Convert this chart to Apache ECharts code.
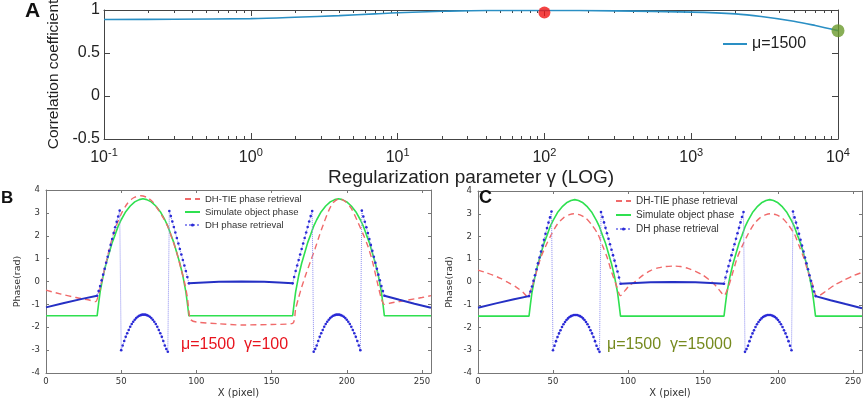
<!DOCTYPE html>
<html>
<head>
<meta charset="utf-8">
<script src="https://cdn.jsdelivr.net/npm/echarts@6/dist/echarts.min.js"></script>
<style>
  html, body { margin: 0; padding: 0; background: #fff; }
  #main { width: 865px; height: 398px; }
</style>
</head>
<body>
<div id="main"></div>
<script>
// ---- panel A: correlation vs regularization parameter ----
var gammaX = [0.1, 0.3, 1, 2, 4, 7, 10, 20, 40, 100, 300, 1000, 2000, 3000, 5000, 7000, 10000];
var corrY = [0.89, 0.892, 0.9, 0.915, 0.935, 0.955, 0.968, 0.985, 0.995, 0.995, 0.99, 0.975, 0.955, 0.925, 0.87, 0.82, 0.76];
var corrTicks = [-0.5, 0, 0.5, 1];
var gammaMinor = [0.2, 0.3, 0.4, 0.5, 0.6, 0.7, 0.8, 0.9, 2, 3, 4, 5, 6, 7, 8, 9, 20, 30, 40, 50, 60, 70, 80, 90,
  200, 300, 400, 500, 600, 700, 800, 900, 2000, 3000, 4000, 5000, 6000, 7000, 8000, 9000];
var redMark = [100, 0.972];
var greenMark = [10000, 0.76];

// ---- panels B and C: phase profiles ----
var pixelTicks = [0, 50, 100, 150, 200, 250];

// simulated object phase (same in B and C)
var simX = [0, 34, 35, 36, 38, 40, 42, 44, 46, 48, 50, 53, 56, 59, 62, 64.5, 67, 70, 73, 76, 79, 81, 83, 85, 87, 89, 91, 93, 94, 95,
  164, 165, 166, 168, 170, 172, 174, 176, 178, 180, 183, 186, 189, 192, 194.5, 197, 200, 203, 206, 209, 211, 213, 215, 217, 219, 221, 223, 224, 225, 256];
var simY = [-1.5, -1.5, -0.95, -0.45, 0.25, 0.8, 1.25, 1.7, 2.05, 2.42, 2.7, 3.05, 3.3, 3.48, 3.58, 3.62, 3.58, 3.48, 3.3, 3.05, 2.7, 2.42, 2.05, 1.7, 1.25, 0.8, 0.25, -0.45, -0.95, -1.5,
  -1.5, -0.95, -0.45, 0.25, 0.8, 1.25, 1.7, 2.05, 2.42, 2.7, 3.05, 3.3, 3.48, 3.58, 3.62, 3.58, 3.48, 3.3, 3.05, 2.7, 2.42, 2.05, 1.7, 1.25, 0.8, 0.25, -0.45, -0.95, -1.5, -1.5];

// DH phase retrieval (wrapped), same in B and C
var dhWrap1X = [34, 35, 36, 37, 38, 39, 40, 41, 42, 43, 44, 45, 46, 47, 48, 49,
  50, 51, 52, 53, 54, 55, 56, 57, 58, 59, 60, 61, 62, 63, 64, 65, 66, 67, 68, 69, 70, 71, 72, 73, 74, 75, 76, 77, 78, 79, 80, 81,
  82, 83, 84, 85, 86, 87, 88, 89, 90, 91, 92, 93, 94, 95];
var dhWrap1Y = [-0.62, -0.42, -0.2, 0.05, 0.3, 0.56, 0.82, 1.08, 1.34, 1.6, 1.86, 2.12, 2.37, 2.61, 2.84, 3.1,
  -3.0, -2.8, -2.6, -2.42, -2.26, -2.12, -1.98, -1.86, -1.76, -1.67, -1.6, -1.54, -1.5, -1.47, -1.45, -1.45, -1.45, -1.47, -1.5, -1.54, -1.6, -1.67, -1.76, -1.86, -1.98, -2.12, -2.26, -2.42, -2.6, -2.8, -2.95, -3.07,
  3.08, 2.86, 2.62, 2.38, 2.14, 1.9, 1.66, 1.42, 1.18, 0.94, 0.7, 0.46, 0.2, -0.08];
var dhWrap2X = [164, 165, 166, 167, 168, 169, 170, 171, 172, 173, 174, 175, 176, 177,
  178, 179, 180, 181, 182, 183, 184, 185, 186, 187, 188, 189, 190, 191, 192, 193, 194, 195, 196, 197, 198, 199, 200, 201, 202, 203, 204, 205, 206, 207, 208, 209,
  210, 211, 212, 213, 214, 215, 216, 217, 218, 219, 220, 221, 222, 223, 224, 225];
var dhWrap2Y = [-0.08, 0.2, 0.46, 0.7, 0.94, 1.18, 1.42, 1.66, 1.9, 2.14, 2.38, 2.62, 2.86, 3.08,
  -3.07, -2.95, -2.8, -2.6, -2.42, -2.26, -2.12, -1.98, -1.86, -1.76, -1.67, -1.6, -1.54, -1.5, -1.47, -1.45, -1.45, -1.45, -1.47, -1.5, -1.54, -1.6, -1.67, -1.76, -1.86, -1.98, -2.12, -2.26, -2.42, -2.6, -2.8, -3.0,
  3.1, 2.84, 2.61, 2.37, 2.12, 1.86, 1.6, 1.34, 1.08, 0.82, 0.56, 0.3, 0.05, -0.2, -0.42, -0.62];
var dhLeftX = [0, 12, 24, 34];
var dhLeftY = [-1.13, -0.94, -0.76, -0.62];
var dhMidX = [95, 105, 115, 130, 145, 155, 164];
var dhMidY = [-0.08, -0.04, -0.01, 0, -0.01, -0.04, -0.08];
var dhRightX = [225, 235, 245, 256];
var dhRightY = [-0.62, -0.8, -0.97, -1.15];

// DH-TIE retrieval, gamma = 100 (panel B)
var tieBX = [0, 10, 20, 28, 33, 35, 37, 40, 43, 46, 50, 54, 58, 63, 67, 71, 75, 78, 81, 84, 87, 90, 92, 94, 96,
  100, 115, 130, 150, 164, 166, 168, 170, 173, 176, 179, 182, 185, 188, 191, 195, 199, 203, 207, 211, 214, 217, 220, 223, 225, 230, 240, 250, 256];
var tieBY = [-0.38, -0.55, -0.7, -0.8, -0.88, -0.55, 0.0, 0.85, 1.65, 2.3, 2.95, 3.4, 3.65, 3.75, 3.68, 3.48, 3.1, 2.78, 2.4, 1.85, 1.25, 0.5, 0.0, -0.7, -1.65,
  -1.77, -1.85, -1.9, -1.88, -1.83, -1.2, -0.7, -0.25, 0.35, 0.9, 1.45, 2.05, 2.6, 3.1, 3.45, 3.62, 3.5, 3.2, 2.65, 2.05, 1.55, 0.9, 0.05, -0.75, -1.0, -0.93, -0.82, -0.7, -0.62];

// DH-TIE retrieval, gamma = 15000 (panel C)
var tieCX = [0, 5, 10, 15, 20, 25, 30, 33, 36, 39, 42, 46, 49, 53, 57, 61, 64, 68, 72, 76, 80, 83, 86, 89, 92, 95,
  98, 101, 105, 110, 115, 120, 125, 130, 135, 140, 145, 150, 155, 159, 162,
  164, 167, 170, 173, 177, 180, 184, 188, 192, 195, 199, 203, 207, 211, 214, 217, 220, 223, 226, 232, 238, 244, 250, 256];
var tieCY = [0.52, 0.42, 0.3, 0.16, -0.02, -0.2, -0.45, -0.65, -0.2, 0.45, 1.1, 1.7, 2.1, 2.55, 2.82, 2.96, 3.0, 2.95, 2.8, 2.5, 2.1, 1.6, 1.1, 0.45, -0.1, -0.6,
  -0.38, -0.15, 0.03, 0.3, 0.5, 0.62, 0.68, 0.7, 0.68, 0.6, 0.47, 0.3, 0.05, -0.2, -0.45,
  -0.6, -0.2, 0.45, 1.1, 1.7, 2.1, 2.55, 2.82, 2.96, 3.0, 2.95, 2.8, 2.5, 2.1, 1.6, 1.1, 0.45, -0.1, -0.65, -0.4, -0.12, 0.08, 0.27, 0.42];

var FONT = 'Liberation Sans, Arial, sans-serif';
var GAP = ['-', '-'];

function pairs(xs, ys) {
  return xs.map(function (x, i) { return [x, ys[i]]; });
}

var chart = echarts.init(document.getElementById('main'), null, { renderer: 'canvas' });

// axes of one phase panel (box with inward ticks)
function phaseX(grid, pos) {
  return {
    type: 'value', gridIndex: grid, position: pos, min: 0, max: 256,
    axisLine: { show: true, onZero: false, lineStyle: { color: '#777', width: 1 } },
    axisTick: { show: true, inside: true, length: 3, customValues: pixelTicks, lineStyle: { color: '#777' } },
    axisLabel: pos === 'bottom'
      ? { show: true, customValues: pixelTicks, fontSize: 8.5, color: '#333', margin: 4, fontFamily: 'DejaVu Sans' }
      : { show: false },
    splitLine: { show: false },
    name: pos === 'bottom' ? 'X (pixel)' : '',
    nameLocation: 'middle', nameGap: 15,
    nameTextStyle: { fontSize: 10, color: '#333', fontFamily: 'DejaVu Sans' }
  };
}
function phaseY(grid, pos) {
  return {
    type: 'value', gridIndex: grid, position: pos, min: -4, max: 4, interval: 1,
    axisLine: { show: true, onZero: false, lineStyle: { color: '#777', width: 1 } },
    axisTick: { show: true, inside: true, length: 3, lineStyle: { color: '#777' } },
    axisLabel: pos === 'left'
      ? { show: true, fontSize: 8.5, color: '#333', margin: 6, fontFamily: 'DejaVu Sans' }
      : { show: false },
    splitLine: { show: false },
    name: pos === 'left' ? 'Phase(rad)' : '',
    nameLocation: 'middle', nameGap: 23, nameRotate: 90,
    nameTextStyle: { fontSize: 9.5, color: '#333', fontFamily: 'DejaVu Sans' }
  };
}
// minor log ticks drawn on a hidden value axis running in decades
function minorAxis(pos) {
  return {
    type: 'value', gridIndex: 0, position: pos, min: -1, max: 4,
    axisLine: { show: false, onZero: false }, axisLabel: { show: false }, splitLine: { show: false },
    axisTick: { show: true, inside: true, length: 3, lineStyle: { color: '#444' },
      customValues: gammaMinor.map(function (g) { return Math.log(g) / Math.LN10; }) }
  };
}

function phaseSeries(xi, yi, tieX, tieY) {
  return [
    {
      name: 'Simulate object phase', type: 'line', xAxisIndex: xi, yAxisIndex: yi,
      data: pairs(simX, simY), symbol: 'none',
      lineStyle: { color: '#2fe050', width: 1.6 }, itemStyle: { color: '#2fe050' }, z: 2
    },
    {
      name: 'DH-TIE phase retrieval', type: 'line', xAxisIndex: xi, yAxisIndex: yi,
      data: pairs(tieX, tieY), symbol: 'none', smooth: 0.25,
      lineStyle: { color: '#f06a6a', width: 1.4, type: [6, 4] }, itemStyle: { color: '#f06a6a' }, z: 3
    },
    {
      name: 'DH phase retrieval', type: 'line', xAxisIndex: xi, yAxisIndex: yi,
      data: pairs(dhWrap1X, dhWrap1Y).concat([GAP], pairs(dhWrap2X, dhWrap2Y)),
      symbol: 'circle', symbolSize: 2.6, showSymbol: true,
      lineStyle: { color: '#8d8df0', width: 1, type: 'dotted' },
      itemStyle: { color: '#2a2ad6' }, z: 4
    },
    {
      name: 'DH phase retrieval', type: 'line', xAxisIndex: xi, yAxisIndex: yi,
      data: pairs(dhLeftX, dhLeftY).concat([GAP], pairs(dhMidX, dhMidY), [GAP], pairs(dhRightX, dhRightY)),
      symbol: 'none', lineStyle: { color: '#2530c4', width: 2 }, z: 4
    }
  ];
}

var phaseLegendData = [
  { name: 'DH-TIE phase retrieval', itemStyle: { opacity: 0 } },
  { name: 'Simulate object phase', itemStyle: { opacity: 0 } },
  { name: 'DH phase retrieval' }
];

var option = {
  animation: false,
  backgroundColor: '#fff',
  textStyle: { fontFamily: FONT },
  title: [
    { text: 'A', left: 25, top: 1, padding: 0, textStyle: { fontSize: 21, fontWeight: 'bold', color: '#111', fontFamily: FONT } },
    { text: 'B', left: 1, top: 190, padding: 0, textStyle: { fontSize: 17, fontWeight: 'bold', color: '#111', fontFamily: FONT } },
    { text: 'C', left: 479, top: 189, padding: 0, textStyle: { fontSize: 18, fontWeight: 'bold', color: '#111', fontFamily: FONT } }
  ],
  legend: [
    {
      data: [{ name: 'μ=1500', itemStyle: { opacity: 0 } }], left: 722, top: 36, padding: 0,
      itemWidth: 24, itemHeight: 6, textStyle: { fontSize: 16, color: '#222', fontFamily: FONT }
    },
    {
      data: phaseLegendData, orient: 'vertical', left: 184, top: 194, padding: 0,
      itemWidth: 15, itemHeight: 4, itemGap: 3, textStyle: { fontSize: 9.5, color: '#333', fontFamily: FONT }
    },
    {
      data: phaseLegendData, orient: 'vertical', left: 615, top: 196, padding: 0,
      itemWidth: 15, itemHeight: 4, itemGap: 4, textStyle: { fontSize: 10, color: '#333', fontFamily: FONT }
    }
  ],
  grid: [
    { left: 104, top: 10, width: 734, height: 129, containLabel: false, outerBoundsMode: 'none' },
    { left: 46, top: 190, width: 385, height: 183, containLabel: false, outerBoundsMode: 'none' },
    { left: 478, top: 191, width: 384, height: 182, containLabel: false, outerBoundsMode: 'none' }
  ],
  xAxis: [
    {
      type: 'log', logBase: 10, gridIndex: 0, position: 'bottom', min: 0.1, max: 10000,
      axisLine: { show: true, onZero: false, lineStyle: { color: '#444' } },
      axisTick: { show: true, inside: true, length: 6, lineStyle: { color: '#444' } },
      axisLabel: {
        show: true, margin: 8, color: '#222',
        formatter: function (v) {
          var e = Math.round(Math.log(v) / Math.LN10);
          return '{b|10}{s|' + e + '}';
        },
        rich: {
          b: { fontSize: 16, color: '#222', fontFamily: FONT },
          s: { fontSize: 11, color: '#222', fontFamily: FONT, padding: [0, 0, 11, 0] }
        }
      },
      splitLine: { show: false },
      name: 'Regularization parameter γ (LOG)', nameLocation: 'middle', nameGap: 29,
      nameTextStyle: { fontSize: 19, color: '#222', fontFamily: FONT }
    },
    minorAxis('bottom'),
    {
      type: 'log', logBase: 10, gridIndex: 0, position: 'top', min: 0.1, max: 10000,
      axisLine: { show: true, onZero: false, lineStyle: { color: '#444' } },
      axisTick: { show: true, inside: true, length: 6, lineStyle: { color: '#444' } },
      axisLabel: { show: false }, splitLine: { show: false }
    },
    minorAxis('top'),
    phaseX(1, 'bottom'), phaseX(1, 'top'),
    phaseX(2, 'bottom'), phaseX(2, 'top')
  ],
  yAxis: [
    {
      type: 'value', gridIndex: 0, position: 'left', min: -0.5, max: 1, interval: 0.5,
      axisLine: { show: true, onZero: false, lineStyle: { color: '#444' } },
      axisTick: { show: true, inside: true, length: 6, lineStyle: { color: '#444' } },
      axisLabel: { show: true, fontSize: 16, color: '#222', margin: 4, fontFamily: FONT },
      splitLine: { show: false },
      name: 'Correlation coefficient', nameLocation: 'middle', nameGap: 38, nameRotate: 90,
      nameTextStyle: { fontSize: 15.5, color: '#222', fontFamily: FONT }
    },
    {
      type: 'value', gridIndex: 0, position: 'right', min: -0.5, max: 1, interval: 0.5,
      axisLine: { show: true, onZero: false, lineStyle: { color: '#444' } },
      axisTick: { show: true, inside: true, length: 6, lineStyle: { color: '#444' } },
      axisLabel: { show: false }, splitLine: { show: false }
    },
    phaseY(1, 'left'), phaseY(1, 'right'),
    phaseY(2, 'left'), phaseY(2, 'right')
  ],
  series: [
    {
      name: 'μ=1500', type: 'line', xAxisIndex: 0, yAxisIndex: 0,
      data: pairs(gammaX, corrY), symbol: 'none', smooth: 0.35,
      lineStyle: { color: '#2a8fc4', width: 1.6 }, itemStyle: { color: '#2a8fc4' }
    },
    {
      type: 'scatter', xAxisIndex: 0, yAxisIndex: 0, data: [redMark],
      symbolSize: 12, itemStyle: { color: '#f01414' }, z: 5
    },
    {
      type: 'scatter', xAxisIndex: 0, yAxisIndex: 0, data: [greenMark],
      symbolSize: 13, itemStyle: { color: '#6a9a2c' }, z: 5
    }
  ].concat(phaseSeries(4, 2, tieBX, tieBY), phaseSeries(6, 4, tieCX, tieCY)),
  graphic: [
    { type: 'text', left: 181, top: 337, style: { text: 'μ=1500  γ=100', fontSize: 16, fill: '#e8141e', fontFamily: FONT } },
    { type: 'text', left: 607, top: 337, style: { text: 'μ=1500  γ=15000', fontSize: 16, fill: '#768a1e', fontFamily: FONT } }
  ]
};

chart.setOption(option);
</script>
</body>
</html>
